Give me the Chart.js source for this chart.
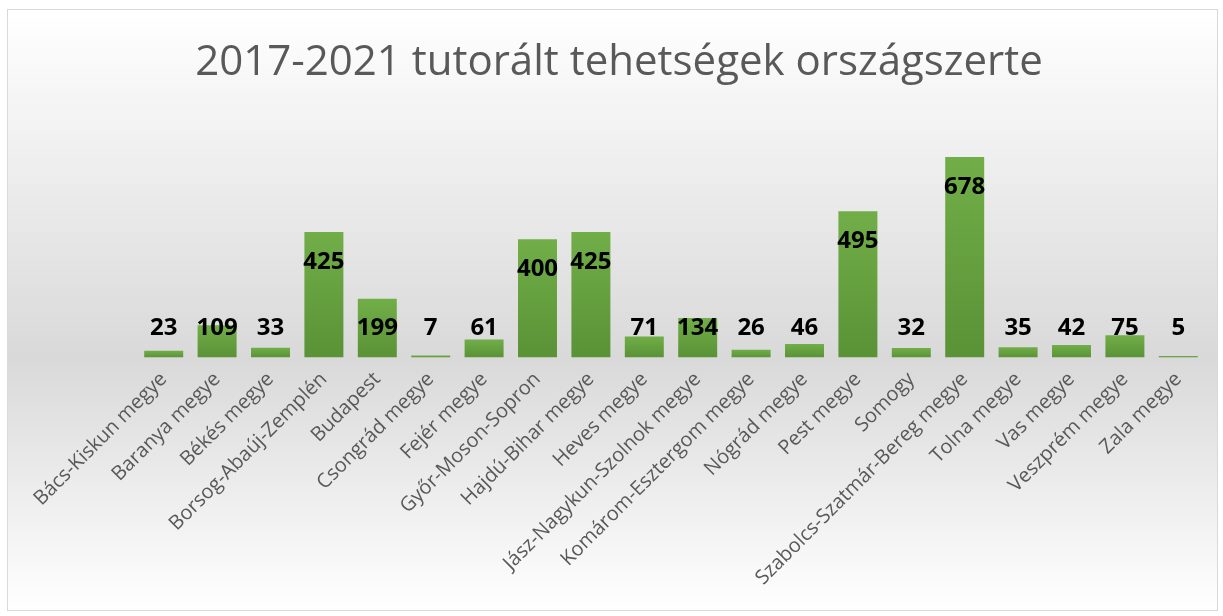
<!DOCTYPE html>
<html>
<head>
<meta charset="utf-8">
<script src="https://cdn.jsdelivr.net/npm/chart.js@4"></script>
<style>
  html, body { margin: 0; padding: 0; background: #fff; }
  #wrap { width: 1223px; height: 616px; position: relative; }
</style>
</head>
<body>
<div id="wrap"><canvas id="myChart"></canvas></div>
<script>
// adatok
var megyek = ['Bács-Kiskun megye', 'Baranya megye', 'Békés megye', 'Borsog-Abaúj-Zemplén', 'Budapest',
  'Csongrád megye', 'Fejér megye', 'Győr-Moson-Sopron', 'Hajdú-Bihar megye', 'Heves megye',
  'Jász-Nagykun-Szolnok megye', 'Komárom-Esztergom megye', 'Nógrád megye', 'Pest megye', 'Somogy',
  'Szabolcs-Szatmár-Bereg megye', 'Tolna megye', 'Vas megye', 'Veszprém megye', 'Zala megye'];
var tehetsegek = [23, 109, 33, 425, 199, 7, 61, 400, 425, 71, 134, 26, 46, 495, 32, 678, 35, 42, 75, 5];
var cim = '2017-2021 tutorált tehetségek országszerte';

// hatter + keret + cim
var hatter = {
  id: 'hatter',
  beforeDraw: function (chart) {
    var c = chart.ctx;
    var g = c.createLinearGradient(0, 9, 0, 611);
    g.addColorStop(0, '#ffffff');
    g.addColorStop(0.58, '#d9d9d9');
    g.addColorStop(1, '#ffffff');
    c.save();
    c.fillStyle = g;
    c.fillRect(7, 9, 1211, 602);
    c.strokeStyle = '#d9d9d9';
    c.lineWidth = 1;
    c.strokeRect(7.5, 9.5, 1210, 601);

    c.font = '42px "Open Sans"';
    c.fillStyle = '#595959';
    c.textAlign = 'center';
    c.textBaseline = 'middle';
    c.fillText(cim, 619, 63);
    c.restore();
  }
};

// ertekek az oszlopokon
var cimkek = {
  id: 'cimkek',
  afterDatasetsDraw: function (chart) {
    var c = chart.ctx;
    var meta = chart.getDatasetMeta(0);
    var base = chart.scales.y.getPixelForValue(0);
    c.save();
    c.font = 'bold 24px "Open Sans"';
    c.fillStyle = '#000';
    c.textAlign = 'center';
    c.textBaseline = 'middle';
    meta.data.forEach(function (bar, i) {
      var y = Math.min(bar.y + 30, base - 29);
      c.fillText(tehetsegek[i], bar.x, y);
    });
    c.restore();
  }
};

new Chart('myChart', {
  type: 'bar',
  data: {
    labels: megyek,
    datasets: [{
      data: tehetsegek,
      backgroundColor: function (ctx) {
        var ch = ctx.chart;
        if (!ch.chartArea || ctx.raw === undefined) return '#6aa843';
        var y0 = ch.scales.y.getPixelForValue(ctx.raw);
        var y1 = ch.scales.y.getPixelForValue(0);
        if (y1 - y0 < 1) y0 = y1 - 1;
        var g = ch.ctx.createLinearGradient(0, y0, 0, y1);
        g.addColorStop(0, '#71ae48');
        g.addColorStop(1, '#5a9236');
        return g;
      },
      barPercentage: 0.73,
      categoryPercentage: 1
    }]
  },
  options: {
    responsive: true,
    maintainAspectRatio: false,
    animation: false,
    layout: { padding: { left: 137, right: 18, top: 121, bottom: 24 } },
    plugins: {
      legend: { display: false },
      tooltip: { enabled: false },
      title: { display: false }
    },
    scales: {
      x: {
        grid: { display: false },
        border: { display: false },
        ticks: {
          color: '#595959',
          font: { family: 'Open Sans', size: 20 },
          maxRotation: 45,
          minRotation: 45,
          padding: 2
        }
      },
      y: { display: false, min: 0, max: 800 }
    }
  },
  plugins: [hatter, cimkek]
});
</script>
</body>
</html>
